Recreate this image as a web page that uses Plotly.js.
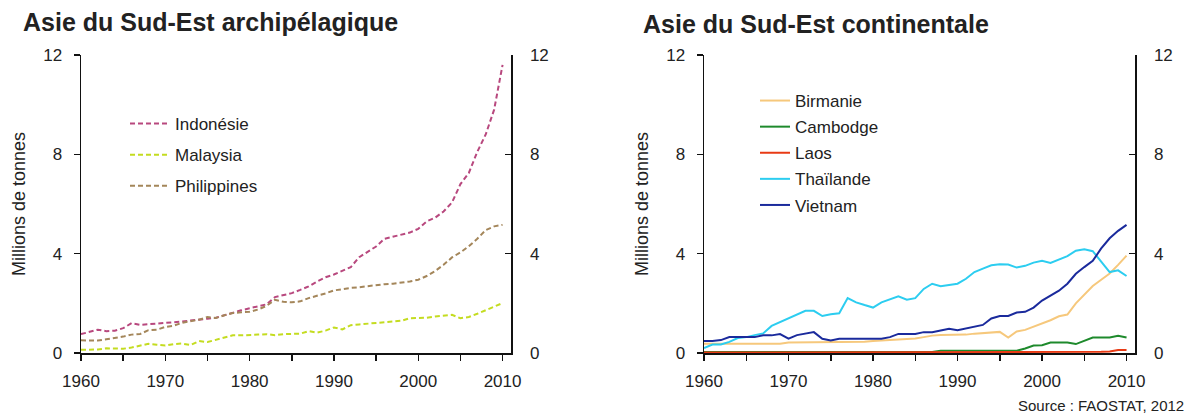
<!DOCTYPE html>
<html>
<head>
<meta charset="utf-8">
<script src="https://cdn.plot.ly/plotly-3.0.1.min.js"></script>
<style>
  html, body { margin: 0; padding: 0; background: #ffffff; }
  #chart { width: 1192px; height: 416px; }
</style>
</head>
<body>
<div id="chart"></div>
<script>
// ---- Data (millions de tonnes), 1960-2010 ----
const years = [];
for (let y = 1960; y <= 2010; y++) years.push(y);

const indonesie = [0.76, 0.85, 0.94, 0.88, 0.90, 1.00, 1.20, 1.13, 1.15, 1.19,
  1.20, 1.24, 1.27, 1.30, 1.32, 1.38, 1.42, 1.52, 1.64, 1.72,
  1.80, 1.88, 1.96, 2.25, 2.32, 2.41, 2.54, 2.68, 2.88, 3.05,
  3.16, 3.30, 3.46, 3.86, 4.08, 4.29, 4.60, 4.68, 4.76, 4.85,
  5.00, 5.30, 5.45, 5.70, 6.06, 6.80, 7.25, 8.10, 8.80, 9.80, 11.60];
const malaysia = [0.13, 0.13, 0.14, 0.19, 0.18, 0.17, 0.22, 0.30, 0.37, 0.33,
  0.30, 0.36, 0.38, 0.32, 0.48, 0.44, 0.52, 0.62, 0.71, 0.71,
  0.71, 0.74, 0.76, 0.72, 0.76, 0.76, 0.78, 0.88, 0.82, 0.90,
  1.03, 0.95, 1.12, 1.15, 1.18, 1.20, 1.23, 1.27, 1.30, 1.40,
  1.40, 1.42, 1.47, 1.50, 1.54, 1.40, 1.45, 1.58, 1.72, 1.85, 2.01];
const philippines = [0.51, 0.50, 0.50, 0.55, 0.60, 0.66, 0.74, 0.76, 0.92, 0.94,
  1.05, 1.10, 1.22, 1.28, 1.34, 1.45, 1.41, 1.52, 1.61, 1.64,
  1.66, 1.75, 1.90, 2.14, 2.06, 2.04, 2.08, 2.21, 2.30, 2.40,
  2.52, 2.58, 2.62, 2.65, 2.70, 2.75, 2.77, 2.79, 2.82, 2.88,
  2.95, 3.10, 3.30, 3.55, 3.85, 4.05, 4.30, 4.60, 4.95, 5.10, 5.16];

const birmanie = [0.37, 0.37, 0.37, 0.37, 0.37, 0.37, 0.37, 0.37, 0.37, 0.37,
  0.42, 0.42, 0.42, 0.42, 0.43, 0.43, 0.43, 0.44, 0.45, 0.45,
  0.48, 0.50, 0.50, 0.52, 0.55, 0.58, 0.64, 0.70, 0.72, 0.72,
  0.72, 0.74, 0.78, 0.80, 0.82, 0.85, 0.62, 0.87, 0.93, 1.05,
  1.17, 1.32, 1.48, 1.55, 2.00, 2.35, 2.70, 2.95, 3.20, 3.55, 3.92];
const cambodge = [0.04, 0.04, 0.04, 0.04, 0.04, 0.04, 0.04, 0.04, 0.04, 0.04,
  0.04, 0.04, 0.04, 0.04, 0.04, 0.03, 0.03, 0.03, 0.03, 0.03,
  0.03, 0.04, 0.04, 0.04, 0.04, 0.04, 0.04, 0.04, 0.09, 0.09,
  0.09, 0.09, 0.09, 0.09, 0.09, 0.09, 0.09, 0.09, 0.18, 0.30,
  0.31, 0.42, 0.42, 0.42, 0.36, 0.50, 0.62, 0.62, 0.62, 0.69, 0.62];
const laos = [0.02, 0.02, 0.02, 0.02, 0.02, 0.02, 0.02, 0.02, 0.02, 0.02,
  0.02, 0.02, 0.02, 0.02, 0.02, 0.02, 0.02, 0.02, 0.02, 0.02,
  0.02, 0.02, 0.02, 0.02, 0.02, 0.02, 0.02, 0.02, 0.04, 0.04,
  0.05, 0.05, 0.05, 0.05, 0.05, 0.05, 0.05, 0.05, 0.05, 0.05,
  0.05, 0.05, 0.05, 0.05, 0.05, 0.05, 0.05, 0.05, 0.06, 0.12, 0.12];
const thailande = [0.20, 0.34, 0.34, 0.45, 0.60, 0.64, 0.72, 0.79, 1.09, 1.25,
  1.38, 1.56, 1.70, 1.70, 1.49, 1.56, 1.60, 2.21, 2.04, 1.93,
  1.83, 2.04, 2.15, 2.28, 2.15, 2.21, 2.58, 2.79, 2.69, 2.74,
  2.79, 2.99, 3.26, 3.40, 3.53, 3.57, 3.56, 3.44, 3.51, 3.64,
  3.71, 3.63, 3.76, 3.90, 4.12, 4.18, 4.10, 3.67, 3.26, 3.33, 3.10];
const vietnam = [0.48, 0.48, 0.52, 0.64, 0.64, 0.64, 0.64, 0.71, 0.71, 0.76,
  0.58, 0.72, 0.79, 0.84, 0.57, 0.50, 0.57, 0.57, 0.57, 0.57,
  0.57, 0.57, 0.64, 0.77, 0.77, 0.77, 0.84, 0.84, 0.91, 0.98,
  0.92, 0.98, 1.06, 1.13, 1.39, 1.49, 1.49, 1.63, 1.66, 1.83,
  2.11, 2.31, 2.51, 2.79, 3.19, 3.46, 3.71, 4.21, 4.62, 4.92, 5.16];

const leftNames = ["Indonésie", "Malaysia", "Philippines"];
const leftSeries = [indonesie, malaysia, philippines];
const leftColors = ["#b8487e", "#c4dc20", "#a4865a"];

const rightNames = ["Birmanie", "Cambodge", "Laos", "Thaïlande", "Vietnam"];
const rightSeries = [birmanie, cambodge, laos, thailande, vietnam];
const rightColors = ["#f6c87c", "#1e8a2c", "#e83a14", "#2ccdf0", "#1a2a9c"];

const yTicks = [0, 4, 8, 12];
const xTickVals = [1960, 1970, 1980, 1990, 2000, 2010];

// ---- Layout helpers ----
const W = 1192, H = 416;
const FONT = "Liberation Sans, Arial, sans-serif";
const TXT = "#222222";
const px = v => v / W;
const py = v => 1 - v / H;

const traces = [];
leftSeries.forEach((s, i) => traces.push({
  x: years, y: s, name: leftNames[i], type: "scatter", mode: "lines",
  xaxis: "x", yaxis: "y", legend: "legend", legendgroup: "L" + i,
  line: { color: leftColors[i], width: 2, dash: "5px,3px" },
  hoverinfo: "x+y+name"
}));
rightSeries.forEach((s, i) => traces.push({
  x: years, y: s, name: rightNames[i], type: "scatter", mode: "lines",
  xaxis: "x2", yaxis: "y3", legend: "legend2", legendgroup: "R" + i,
  line: { color: rightColors[i], width: 2 },
  hoverinfo: "x+y+name"
}));
// invisible traces to activate mirrored right-hand axes
traces.push({ x: [years[0]], y: [yTicks[0]], xaxis: "x", yaxis: "y2", mode: "none", showlegend: false, hoverinfo: "skip" });
traces.push({ x: [years[0]], y: [yTicks[0]], xaxis: "x2", yaxis: "y4", mode: "none", showlegend: false, hoverinfo: "skip" });

const yDom = [py(353), py(55)];
const xDomL = [px(81), px(511)];
const xDomR = [px(704), px(1135)];

function xAxis(dom, anchor) {
  return {
    domain: dom, anchor: anchor, range: [1960, 2011],
    tickmode: "array", tickvals: xTickVals, ticktext: xTickVals.map(String),
    ticks: "outside", ticklen: 6, tickwidth: 1.5, tickcolor: "#111",
    minor: { dtick: 5, tick0: 1960, ticks: "outside", ticklen: 6, tickwidth: 1.5, tickcolor: "#111", showgrid: false },
    showline: true, linecolor: "#111", linewidth: 1.5,
    showgrid: false, zeroline: false, fixedrange: true,
    ticklabelstandoff: 6,
    tickfont: { family: FONT, size: 17, color: TXT }
  };
}
function yAxis(side, anchor, overlay, withTitle) {
  const ax = {
    domain: yDom, anchor: anchor, side: side, range: [0, 12],
    tickmode: "array", tickvals: yTicks, ticktext: yTicks.map(String),
    ticks: side === "left" ? "outside" : "inside", ticklen: 6, tickwidth: 1.5, tickcolor: "#111",
    showline: true, linecolor: "#111", linewidth: 1.5,
    showgrid: false, zeroline: false, fixedrange: true,
    ticklabelstandoff: side === "left" ? 8 : 14,
    tickfont: { family: FONT, size: 17, color: TXT }
  };
  if (overlay) ax.overlaying = overlay;
  if (withTitle) ax.title = { text: "Millions de tonnes", font: { family: FONT, size: 18, color: TXT }, standoff: 13 };
  return ax;
}

const layout = {
  width: W, height: H,
  margin: { l: 0, r: 0, t: 0, b: 0 },
  paper_bgcolor: "#ffffff", plot_bgcolor: "rgba(0,0,0,0)",
  font: { family: FONT, color: TXT },
  showlegend: true,
  xaxis: xAxis(xDomL, "y"),
  yaxis: yAxis("left", "x", null, true),
  yaxis2: yAxis("right", "x", "y", false),
  xaxis2: xAxis(xDomR, "y3"),
  yaxis3: yAxis("left", "x2", null, true),
  yaxis4: yAxis("right", "x2", "y3", false),
  legend: {
    x: px(125), y: py(106), xanchor: "left", yanchor: "top",
    bgcolor: "rgba(0,0,0,0)", borderwidth: 0,
    font: { family: FONT, size: 17, color: TXT },
    tracegroupgap: 6, itemwidth: 40
  },
  legend2: {
    x: px(755), y: py(83), xanchor: "left", yanchor: "top",
    bgcolor: "rgba(0,0,0,0)", borderwidth: 0,
    font: { family: FONT, size: 17, color: TXT },
    tracegroupgap: 1, itemwidth: 30
  },
  annotations: [
    { text: "<b>Asie du Sud-Est archipélagique</b>", xref: "paper", yref: "paper",
      x: px(21), y: py(22), xanchor: "left", yanchor: "middle", showarrow: false,
      font: { family: FONT, size: 25, color: TXT } },
    { text: "<b>Asie du Sud-Est continentale</b>", xref: "paper", yref: "paper",
      x: px(641), y: py(24), xanchor: "left", yanchor: "middle", showarrow: false,
      font: { family: FONT, size: 25, color: TXT } },
    { text: "Source : FAOSTAT, 2012", xref: "paper", yref: "paper",
      x: px(1186), y: py(405), xanchor: "right", yanchor: "middle", showarrow: false,
      font: { family: FONT, size: 15, color: TXT } }
  ]
};

Plotly.newPlot("chart", traces, layout, { displayModeBar: false, staticPlot: true });
</script>
</body>
</html>
